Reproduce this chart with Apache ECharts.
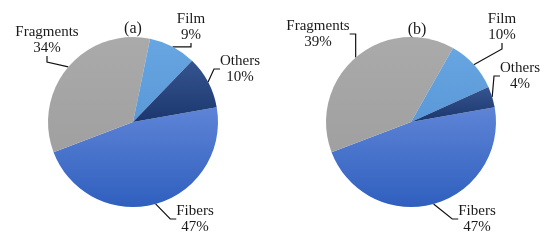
<!DOCTYPE html>
<html>
<head>
<meta charset="utf-8">
<script src="https://cdn.jsdelivr.net/npm/echarts@6/dist/echarts.min.js"></script>
<style>
  html, body { margin: 0; padding: 0; background: #fff; }
  #chart { width: 550px; height: 241px; }
</style>
</head>
<body>
<div id="chart"></div>
<script>
// categories, clockwise from the right edge
const categories = ["Fibers", "Fragments", "Film", "Others"];
const valuesA = [47, 34, 9, 10];
const valuesB = [47, 39, 10, 4];
const panelTitles = ["(a)", "(b)"];

// label box centres, per pie, same order as categories
const labelPos = [
  [[195, 219], [47, 40], [191, 27], [240, 69]],
  [[477, 219], [318, 34], [502, 27], [520, 76]]
];

function grad(top, bottom) {
  return {
    type: "linear", x: 0, y: 0, x2: 0, y2: 1,
    colorStops: [{ offset: 0, color: top }, { offset: 1, color: bottom }]
  };
}
const colors = [
  grad("#5e84d6", "#2f5fbe"),
  grad("#aaaaaa", "#a0a0a0"),
  grad("#67a6e1", "#5a98d8"),
  grad("#35548f", "#1c376f")
];

function makeData(vals) {
  return categories.map((c, i) => ({
    name: c,
    value: vals[i],
    itemStyle: { color: colors[i] }
  }));
}

const font = "'Liberation Serif', 'DejaVu Serif', serif";

function pieSeries(vals, cx, idx) {
  return {
    type: "pie",
    center: [cx, 122],
    radius: 85,
    startAngle: 10,
    clockwise: true,
    avoidLabelOverlap: false,
    data: makeData(vals),
    itemStyle: { borderWidth: 0 },
    emphasis: { disabled: true },
    label: {
      show: true,
      position: "outside",
      formatter: "{b}\n{c}%",
      fontFamily: font,
      fontSize: 15,
      lineHeight: 16,
      color: "#1a1a1a",
      align: "center"
    },
    labelLine: {
      show: true,
      length: 8,
      length2: 6,
      lineStyle: { color: "#111", width: 1.2 }
    },
    labelLayout: function (p) {
      const pos = labelPos[idx][p.dataIndex];
      return { x: pos[0], y: pos[1], align: "center", verticalAlign: "middle" };
    }
  };
}

const myChart = echarts.init(document.getElementById("chart"));
myChart.setOption({
  animation: false,
  title: [
    {
      text: panelTitles[0], left: 128, top: 16, textAlign: "center",
      textStyle: { fontFamily: font, fontSize: 16, fontWeight: "normal", color: "#1a1a1a" }
    },
    {
      text: panelTitles[1], left: 412, top: 17, textAlign: "center",
      textStyle: { fontFamily: font, fontSize: 16, fontWeight: "normal", color: "#1a1a1a" }
    }
  ],
  series: [pieSeries(valuesA, 133, 0), pieSeries(valuesB, 411, 1)]
});
</script>
</body>
</html>
